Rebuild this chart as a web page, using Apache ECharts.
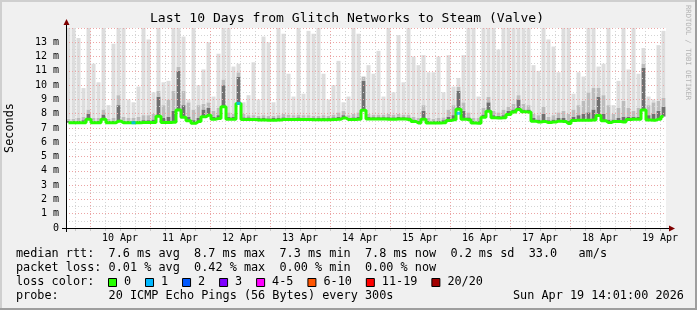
<!DOCTYPE html>
<html><head><meta charset="utf-8">
<script src="https://cdn.jsdelivr.net/npm/echarts@6/dist/echarts.min.js"></script>
<style>html,body{margin:0;padding:0;background:#f0f0f0}#c{width:697px;height:310px}</style>
</head><body><div id="c"></div>
<script>
// ---- data: 120 two-hour bins, Apr 9 14:24 -> Apr 19 14:24 (values in ms) ----
const median = [7.37,7.37,7.37,7.37,7.62,7.37,7.37,7.62,7.37,7.37,
 7.48,7.37,7.37,7.37,7.37,7.38,7.38,7.38,7.82,7.38,
 7.38,7.40,8.26,7.76,7.50,7.33,7.45,7.78,7.90,7.62,
 7.66,8.48,7.62,7.62,8.72,7.60,7.60,7.60,7.56,7.56,
 7.55,7.55,7.56,7.60,7.60,7.60,7.60,7.60,7.60,7.58,
 7.58,7.58,7.58,7.60,7.62,7.70,7.60,7.60,7.62,8.24,
 7.63,7.63,7.63,7.63,7.62,7.62,7.63,7.63,7.60,7.45,
 7.35,7.62,7.35,7.35,7.35,7.37,7.52,7.58,8.32,7.62,
 7.58,7.35,7.33,7.75,8.17,7.72,7.70,7.72,7.95,8.12,
 8.30,8.14,8.12,7.48,7.42,7.45,7.38,7.42,7.48,7.45,
 7.32,7.52,7.55,7.55,7.55,7.56,7.88,7.50,7.38,7.45,
 7.45,7.42,7.60,7.62,7.62,8.26,7.56,7.55,7.62,7.80];
const smokeDark = [7.5,7.5,7.5,7.55,8.0,7.5,7.5,7.95,7.5,7.5,
 8.6,7.5,7.5,7.5,7.5,7.55,7.55,7.6,9.2,7.7,
 7.8,8.2,11.0,8.6,7.8,7.55,7.7,8.3,8.4,7.8,
 7.9,10.0,7.8,7.8,10.6,7.75,7.75,7.72,7.7,7.7,
 7.68,7.7,7.7,7.75,7.72,7.72,7.75,7.72,7.72,7.7,
 7.7,7.72,7.7,7.75,7.8,7.9,7.72,7.75,7.8,10.3,
 7.8,7.76,7.76,7.76,7.76,7.75,7.78,7.76,7.75,7.6,
 7.5,8.2,7.5,7.48,7.5,7.55,7.8,7.9,9.6,8.2,
 7.75,7.5,7.48,7.95,8.8,7.9,7.85,7.9,8.2,8.3,
 9.0,8.3,8.3,7.7,7.6,8.0,7.55,7.6,7.7,7.7,
 7.5,7.8,7.9,8.0,8.1,8.3,9.2,8.0,7.6,7.6,
 7.7,7.8,7.8,7.8,7.8,11.2,7.9,8.0,8.2,8.5];
const smokeMid = [7.65,7.65,7.7,7.8,8.3,7.7,7.7,8.3,7.65,7.7,
 9.3,7.8,7.7,7.7,7.8,7.9,7.9,8.0,9.6,8.6,
 9.0,9.6,11.3,9.6,8.8,8.3,8.6,8.7,8.8,8.2,
 8.4,10.4,8.1,8.0,10.9,8.0,7.9,7.9,7.85,7.9,
 7.85,7.85,7.9,8.0,7.95,7.9,7.95,7.9,7.9,7.85,
 7.85,7.9,7.85,7.95,8.1,8.2,7.9,8.0,8.1,10.6,
 8.0,7.95,7.95,7.95,8.0,7.95,8.0,7.95,7.95,7.8,
 7.7,8.6,7.7,7.65,7.7,7.75,8.3,8.6,9.9,8.8,
 8.1,7.7,7.7,8.4,9.2,8.2,8.1,8.3,8.5,8.7,
 9.3,8.7,8.6,8.0,7.9,8.5,7.8,7.9,8.1,8.2,
 8.0,8.3,8.6,8.9,9.5,9.8,9.8,9.3,8.6,8.0,
 8.4,8.9,8.4,8.2,8.4,11.5,8.6,8.8,8.9,9.1];
const smokeMax = [14.5,14.5,13.3,9.8,14.5,11.5,10.2,14.5,8.6,12.9,
 14.5,14.5,9.0,8.8,9.9,14.5,13.2,9.5,14.5,10.2,
 10.3,14.5,14.5,13.4,9.0,14.5,10.0,11.1,13.0,9.2,
 12.2,14.5,14.5,11.3,11.5,8.8,9.3,11.6,9.0,13.4,
 13.0,8.8,14.5,13.6,10.8,9.2,14.5,9.4,13.8,13.6,
 14.5,10.8,9.0,10.0,11.7,8.8,9.2,14.5,13.6,9.5,
 11.4,10.8,12.4,9.2,14.5,9.5,13.5,10.2,14.5,12.0,
 11.4,12.1,10.9,10.9,12.0,9.5,12.1,9.9,10.5,12.1,
 14.5,14.5,9.2,14.5,14.5,14.5,12.5,14.5,14.5,14.5,
 14.5,14.5,14.5,11.4,11.0,14.5,13.2,12.7,10.9,14.5,
 14.5,9.4,10.9,10.6,14.5,14.5,11.3,11.5,14.5,8.6,
 10.3,14.5,11.1,14.5,10.8,12.6,9.2,9.0,12.8,13.8];
const lossBins = [13, 34, 78];
const lossValues = [7.37, 8.72, 8.03];
const dayLabels = ['10 Apr','11 Apr','12 Apr','13 Apr','14 Apr','15 Apr','16 Apr','17 Apr','18 Apr','19 Apr'];
const rttStats = ['7.6','8.7','7.3','7.8','0.2'];   // avg, max, min, now, sd
const rttAmS = '33.0';
const lossStats = ['0.01','0.42','0.00','0.00'];   // avg, max, min, now
const lossLegendLabels = ['0','1','2','3','4-5','6-10','11-19','20/20'];
const lossLegendColors = ['#26ff00','#00b8ff','#0059ff','#7e00ff','#ff00ff','#ff5500','#ff0000','#a10000'];
const titleText = 'Last 10 Days from Glitch Networks to Steam (Valve)';
const probeText = '20 ICMP Echo Pings (56 Bytes) every 300s';
const stampText = 'Sun Apr 19 14:01:00 2026';

// ---- build ----
const MONO = '"DejaVu Sans Mono", monospace';
const FS = 11.84, CW = 7.13;
const cats = median.map((_, i) => i);
const diff = (a, b) => a.map((v, i) => Math.max(0, v - b[i]));
const GRAY = '#d4d4d4', RED = '#eca4a4';

const barCommon = {type: 'bar', stack: 'smoke', xAxisIndex: 0, yAxisIndex: 0, barWidth: 4, silent: true, animation: false, clip: true};

const graphic = [];
graphic.push({type:'rect', shape:{x:0,y:0,width:697,height:2}, style:{fill:'#cfcfcf'}, z:20});
graphic.push({type:'rect', shape:{x:0,y:0,width:2,height:310}, style:{fill:'#cfcfcf'}, z:20});
graphic.push({type:'rect', shape:{x:695,y:0,width:2,height:310}, style:{fill:'#9e9e9e'}, z:20});
graphic.push({type:'rect', shape:{x:0,y:308,width:697,height:2}, style:{fill:'#9e9e9e'}, z:20});
graphic.push({type:'line', shape:{x1:62,y1:228.5,x2:670,y2:228.5}, style:{stroke:'#000',lineWidth:1}, z:20});
graphic.push({type:'polygon', shape:{points:[[669,225.5],[675,228.5],[669,231.5]]}, style:{fill:'#7f0000'}, z:20});
graphic.push({type:'line', shape:{x1:66.5,y1:232,x2:66.5,y2:24}, style:{stroke:'#000',lineWidth:1}, z:20});
graphic.push({type:'polygon', shape:{points:[[63.5,25],[66.5,19],[69.5,25]]}, style:{fill:'#7f0000'}, z:20});
graphic.push({type:'text', x:347, y:19, style:{text:titleText, fontFamily:MONO, fontSize:13.1, fill:'#000', textAlign:'center', textVerticalAlign:'middle'}, z:20});
graphic.push({type:'text', x:10, y:128, rotation:Math.PI/2, style:{text:'Seconds', fontFamily:MONO, fontSize:FS, fill:'#000', textAlign:'center', textVerticalAlign:'middle'}, z:20});
graphic.push({type:'text', x:688, y:5, rotation:-Math.PI/2, style:{text:'RRDTOOL / TOBI OETIKER', fontFamily:MONO, fontSize:7.2, fill:'#b4b4b4', textAlign:'left', textVerticalAlign:'middle'}, z:20});
const row1 = 'median rtt:  ' + rttStats[0] + ' ms avg  ' + rttStats[1] + ' ms max  ' + rttStats[2] + ' ms min  ' + rttStats[3] + ' ms now  ' + rttStats[4] + ' ms sd  ' + rttAmS + '   am/s';
const row2 = 'packet loss: ' + lossStats[0] + ' % avg  ' + lossStats[1] + ' % max  ' + lossStats[2] + ' % min  ' + lossStats[3] + ' % now';
const rows = [[row1,254],[row2,268],['loss color:',282],['probe:       ' + probeText,296]];
rows.forEach(([t, y]) => graphic.push({type:'text', x:16, y:y, style:{text:t, fontFamily:MONO, fontSize:FS, fill:'#000', textAlign:'left', textVerticalAlign:'middle'}, z:20}));
graphic.push({type:'text', x:513, y:296, style:{text:stampText, fontFamily:MONO, fontSize:FS, fill:'#000', textAlign:'left', textVerticalAlign:'middle'}, z:20});
let bx = 108;
lossLegendLabels.forEach((lab, k) => {
  graphic.push({type:'rect', shape:{x:bx+0.5, y:278.5, width:8, height:8}, style:{fill:lossLegendColors[k], stroke:'#000', lineWidth:1}, z:20});
  graphic.push({type:'text', x:bx+16, y:282, style:{text:lab, fontFamily:MONO, fontSize:FS, fill:'#000', textAlign:'left', textVerticalAlign:'middle'}, z:20});
  bx += lab.length * CW + 29.9;
});

const option = {
  animation: false,
  backgroundColor: '#f0f0f0',
  grid: [
    {left: 66, top: 28, width: 600, height: 200, show: true, backgroundColor: '#ffffff', borderWidth: 0},
    {left: 75, top: 28, width: 585, height: 200, show: false}
  ],
  xAxis: [
    {type: 'category', gridIndex: 0, data: cats, boundaryGap: true, axisLine: {show: false}, axisTick: {show: false}, axisLabel: {show: false}, splitLine: {show: false}},
    {type: 'value', gridIndex: 1, min: 18, max: 252, interval: 6, z: 3,
     axisLine: {show: false},
     axisTick: {show: true, length: 3, lineStyle: {color: '#c8c8c8'}},
     axisLabel: {show: true, margin: 5, fontFamily: MONO, fontSize: 10, color: '#000', hideOverlap: false,
       formatter: v => (v % 24 === 12) ? dayLabels[(v - 36) / 24] : ''},
     splitLine: {show: true, lineStyle: {color: [GRAY, RED, GRAY, GRAY], width: 1, type: [1, 2]}}}
  ],
  yAxis: [
    {type: 'value', gridIndex: 0, min: 0, max: 14, interval: 0.5, z: 3,
     axisLine: {show: false}, axisTick: {show: false},
     axisLabel: {margin: 7, fontFamily: MONO, fontSize: 10, color: '#000',
       formatter: v => v === 0 ? '0' : ((Number.isInteger(v) && v < 14) ? v + ' m' : '')},
     splitLine: {show: true, lineStyle: {color: [RED, GRAY], width: 1, type: [1, 2]}}},
    {type: 'value', gridIndex: 1, min: 0, max: 14, show: false}
  ],
  series: [
    Object.assign({}, barCommon, {name: 'base', data: median, itemStyle: {color: 'rgba(0,0,0,0)'}}),
    Object.assign({}, barCommon, {name: 'dark', data: diff(smokeDark, median), itemStyle: {color: '#707070'}}),
    Object.assign({}, barCommon, {name: 'mid', data: diff(smokeMid, smokeDark), itemStyle: {color: '#bcbcbc'}}),
    Object.assign({}, barCommon, {name: 'light', data: diff(smokeMax, smokeMid), itemStyle: {color: '#dddddd'}}),
    {type: 'line', name: 'median', xAxisIndex: 0, yAxisIndex: 0, data: median, step: 'middle', symbol: 'none', z: 5,
     lineStyle: {color: '#26ff00', width: 3}, silent: true, animation: false},
    {type: 'scatter', name: 'loss', xAxisIndex: 0, yAxisIndex: 0, z: 6, symbol: 'rect', symbolSize: [4, 3],
     itemStyle: {color: '#00b8ff'}, data: lossBins.map((b, i) => [b, lossValues[i]]), silent: true, animation: false}
  ],
  graphic: graphic
};
const chart = echarts.init(document.getElementById('c'), null, {renderer: 'canvas', width: 697, height: 310});
chart.setOption(option);
</script></body></html>
